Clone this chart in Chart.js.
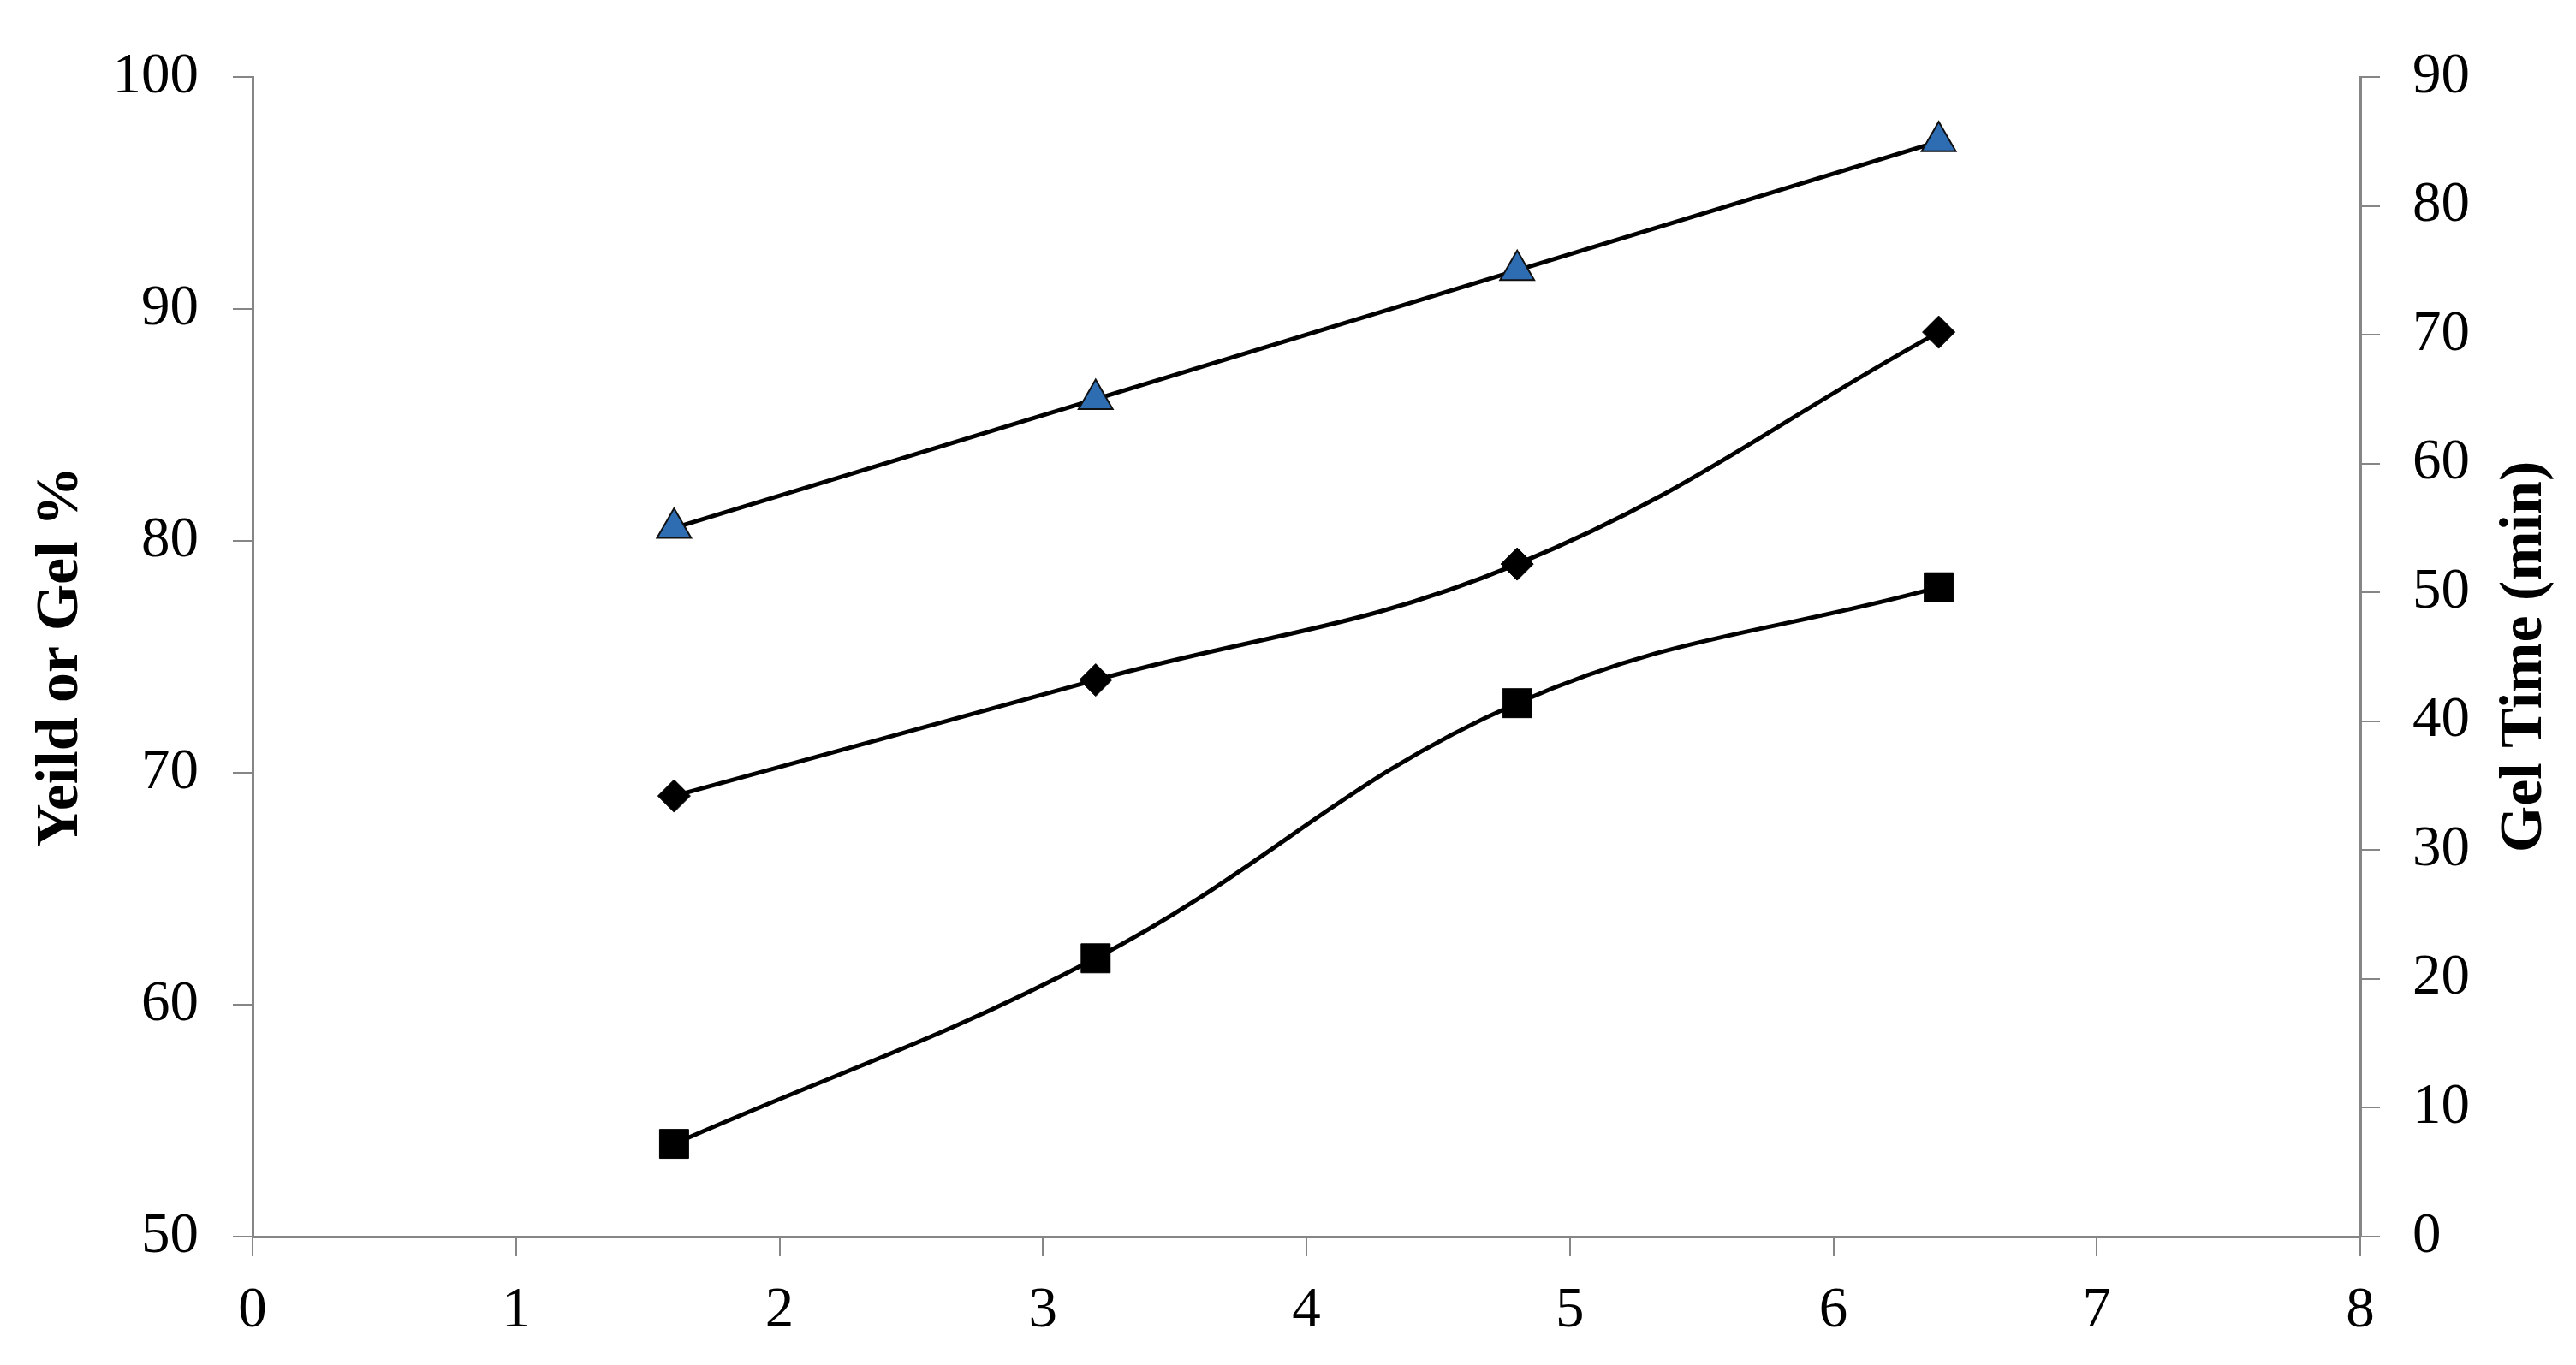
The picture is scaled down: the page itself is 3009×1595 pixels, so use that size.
<!DOCTYPE html>
<html>
<head>
<meta charset="utf-8">
<title>Yield / Gel / Gel Time</title>
<script src="https://cdn.jsdelivr.net/npm/chart.js@4.4.1/dist/chart.umd.min.js"></script>
<style>
    html, body { margin: 0; padding: 0; background: #fff; }
    canvas { display: block; }
</style>
</head>
<body>
<canvas id="chart" width="3009" height="1595"></canvas>
<script>
// x positions shared by all three series
const xValues = [1.6, 3.2, 4.8, 6.4];

// left axis (Yeild or Gel %)
const diamondValues = [69, 74, 79, 89];
const squareValues = [54, 62, 73, 78];

// right axis (Gel Time, min)
const gelTimeValues = [55, 65, 75, 85];

const xTicks = [0, 1, 2, 3, 4, 5, 6, 7, 8];
const leftTicks = [50, 60, 70, 80, 90, 100];
const rightTicks = [0, 10, 20, 30, 40, 50, 60, 70, 80, 90];

const FONT = '"Liberation Serif", "Times New Roman", serif';
const AXIS_GREY = '#868686';

const toPoints = (ys) => xValues.map((x, i) => ({ x: x, y: ys[i] }));

// right title reads bottom-to-top, Chart.js would rotate it the other way
const rightTitlePlugin = {
    id: 'rightTitle',
    afterDraw(chart) {
        const area = chart.chartArea;
        const ctx = chart.ctx;
        ctx.save();
        ctx.translate(2950, (area.top + area.bottom) / 2);
        ctx.rotate(-Math.PI / 2);
        ctx.font = 'bold 70px ' + FONT;
        ctx.fillStyle = '#000';
        ctx.textAlign = 'center';
        ctx.textBaseline = 'middle';
        ctx.fillText('Gel Time (min)', 0, 0);
        ctx.restore();
    }
};

const lineStyle = {
    borderColor: '#000',
    borderWidth: 5,
    tension: 0.4,
    fill: false
};

new Chart(document.getElementById('chart'), {
    type: 'line',
    data: {
        datasets: [
            {
                ...lineStyle,
                label: 'Gel Time',
                data: toPoints(gelTimeValues),
                yAxisID: 'y2',
                pointStyle: 'triangle',
                pointRadius: 23,
                pointBackgroundColor: '#2f6db3',
                pointBorderColor: '#111',
                pointBorderWidth: 2
            },
            {
                ...lineStyle,
                label: 'Diamond',
                data: toPoints(diamondValues),
                yAxisID: 'y',
                pointStyle: 'rectRot',
                pointRadius: 19,
                pointBackgroundColor: '#000',
                pointBorderColor: '#000',
                pointBorderWidth: 1
            },
            {
                ...lineStyle,
                label: 'Square',
                data: toPoints(squareValues),
                yAxisID: 'y',
                pointStyle: 'rect',
                pointRadius: 24,
                pointBackgroundColor: '#000',
                pointBorderColor: '#000',
                pointBorderWidth: 1
            }
        ]
    },
    options: {
        responsive: false,
        animation: false,
        devicePixelRatio: 1,
        layout: { padding: { top: 90, right: 0, bottom: 0, left: 0 } },
        plugins: {
            legend: { display: false },
            tooltip: { enabled: false }
        },
        scales: {
            x: {
                type: 'linear',
                min: xTicks[0],
                max: xTicks[xTicks.length - 1],
                afterBuildTicks: (s) => { s.ticks = xTicks.map(v => ({ value: v })); },
                afterFit: (s) => { s.height = 150; },
                grid: { drawOnChartArea: false, tickLength: 23, color: AXIS_GREY, lineWidth: 2 },
                border: { color: AXIS_GREY, width: 3 },
                ticks: { color: '#000', padding: 24, font: { family: FONT, size: 67 } }
            },
            y: {
                position: 'left',
                min: leftTicks[0],
                max: leftTicks[leftTicks.length - 1],
                afterBuildTicks: (s) => { s.ticks = leftTicks.map(v => ({ value: v })); },
                afterFit: (s) => { s.width = 295; },
                grid: { drawOnChartArea: false, tickLength: 23, color: AXIS_GREY, lineWidth: 2 },
                border: { color: AXIS_GREY, width: 3 },
                ticks: { color: '#000', padding: 40, font: { family: FONT, size: 67 } },
                title: {
                    display: true,
                    text: 'Yeild or Gel %',
                    color: '#000',
                    padding: { top: 30, bottom: 0 },
                    font: { family: FONT, size: 70, weight: 'bold' }
                }
            },
            y2: {
                position: 'right',
                min: rightTicks[0],
                max: rightTicks[rightTicks.length - 1],
                afterBuildTicks: (s) => { s.ticks = rightTicks.map(v => ({ value: v })); },
                afterFit: (s) => { s.width = 252; },
                grid: { drawOnChartArea: false, tickLength: 23, color: AXIS_GREY, lineWidth: 2 },
                border: { color: AXIS_GREY, width: 3 },
                ticks: { color: '#000', padding: 38, font: { family: FONT, size: 67 } }
            }
        }
    },
    plugins: [rightTitlePlugin]
});
</script>
</body>
</html>
